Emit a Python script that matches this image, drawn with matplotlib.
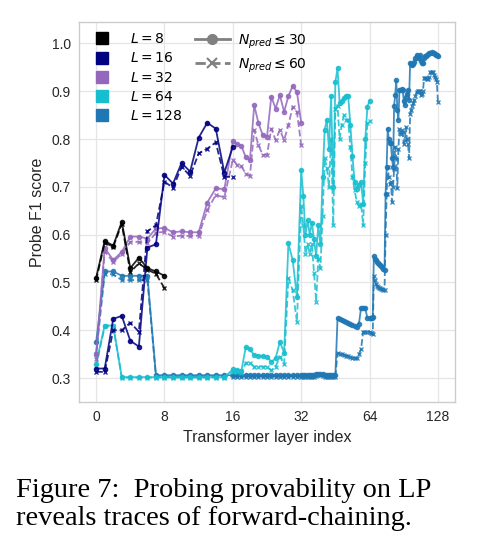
import numpy as np
import matplotlib.pyplot as plt
from matplotlib.lines import Line2D

plt.rcParams["font.family"] = "Liberation Sans"

# ---- datos (F1 del probe por capa) ----
model_sizes = [8, 16, 32, 64, 128]
colors = ["#000000", "#000080", "#9467bd", "#17becf", "#1f77b4"]

L8_n30 = [0.510, 0.587, 0.577, 0.627, 0.530, 0.552, 0.530, 0.523, 0.514]
L8_n60 = [0.505, 0.583, 0.575, 0.622, 0.522, 0.540, 0.527, 0.518, 0.488]

L16_n30 = [0.320, 0.320, 0.424, 0.430, 0.378, 0.366, 0.573, 0.580, 0.725,
           0.707, 0.750, 0.732, 0.803, 0.834, 0.822, 0.730, 0.784]
L16_n60 = [0.313, 0.313, 0.400, 0.400, 0.416, 0.397, 0.607, 0.620, 0.711,
           0.698, 0.742, 0.723, 0.770, 0.780, 0.793, 0.721, 0.721]

L32_n30 = [0.350, 0.572, 0.547, 0.564, 0.596, 0.596, 0.592, 0.613, 0.614,
           0.605, 0.607, 0.605, 0.605, 0.667, 0.697, 0.695, 0.796,
           0.789, 0.786, 0.762, 0.756, 0.871, 0.833, 0.808, 0.805,
           0.889, 0.864, 0.892, 0.857, 0.890, 0.911, 0.899, 0.834]
L32_n60 = [0.340, 0.565, 0.543, 0.560, 0.585, 0.585, 0.582, 0.604, 0.606,
           0.596, 0.598, 0.597, 0.598, 0.651, 0.683, 0.678, 0.757,
           0.746, 0.743, 0.728, 0.723, 0.819, 0.787, 0.767, 0.767,
           0.822, 0.798, 0.819, 0.798, 0.829, 0.868, 0.857, 0.787]

L64_n30 = [0.330, 0.410, 0.410, 0.302, 0.302, 0.302, 0.302, 0.302, 0.302,
           0.302, 0.302, 0.302, 0.302, 0.302, 0.302, 0.302,
           0.318, 0.317, 0.315, 0.364, 0.360, 0.348, 0.347, 0.346,
           0.345, 0.334, 0.341, 0.376, 0.353, 0.582, 0.547, 0.470,
           0.735, 0.680, 0.600, 0.630, 0.600, 0.625, 0.590, 0.555,
           0.620, 0.580, 0.720, 0.820, 0.840, 0.780, 0.890, 0.700,
           0.920, 0.948, 0.875, 0.880, 0.885, 0.890, 0.890, 0.830,
           0.765, 0.710, 0.695, 0.705, 0.710, 0.665, 0.800, 0.868, 0.880]
L64_n60 = [0.325, 0.408, 0.408, 0.301, 0.301, 0.301, 0.301, 0.301, 0.301,
           0.301, 0.301, 0.301, 0.301, 0.301, 0.301, 0.301,
           0.313, 0.312, 0.310, 0.332, 0.332, 0.324, 0.324, 0.324,
           0.324, 0.316, 0.324, 0.345, 0.329, 0.509, 0.484, 0.418,
           0.660, 0.620, 0.560, 0.580, 0.560, 0.580, 0.520, 0.460,
           0.550, 0.530, 0.640, 0.760, 0.740, 0.700, 0.800, 0.620,
           0.864, 0.870, 0.800, 0.830, 0.850, 0.840, 0.840, 0.784,
           0.720, 0.693, 0.669, 0.660, 0.665, 0.620, 0.750, 0.834, 0.837]

L128_n30 = [0.375, 0.523, 0.523, 0.514, 0.514, 0.514, 0.514, 0.306,
            0.306, 0.306, 0.306, 0.306, 0.306, 0.306, 0.306, 0.306,
            0.306, 0.306, 0.306, 0.306, 0.306, 0.306, 0.306, 0.306,
            0.306, 0.306, 0.306, 0.306, 0.306, 0.306, 0.306, 0.306,
            0.306, 0.306, 0.306, 0.306, 0.306, 0.306, 0.306, 0.308,
            0.309, 0.309, 0.308, 0.306, 0.306, 0.306, 0.306, 0.306, 0.306,
            0.425, 0.423, 0.421, 0.419, 0.417, 0.415, 0.413, 0.411,
            0.409, 0.406, 0.413, 0.446, 0.446, 0.446, 0.425, 0.425,
            0.425, 0.426, 0.427, 0.555, 0.550, 0.546, 0.543, 0.540,
            0.538, 0.536, 0.534, 0.532, 0.529, 0.526,
            0.686, 0.742, 0.822, 0.800, 0.791, 0.791, 0.760, 0.742,
            0.870, 0.892, 0.923, 0.860, 0.840, 0.903, 0.903, 0.905,
            0.903, 0.880, 0.871, 0.889, 0.895, 0.903, 0.882, 0.960,
            0.957, 0.955, 0.958, 0.962, 0.970, 0.976, 0.969, 0.972,
            0.976, 0.963, 0.960, 0.959, 0.970, 0.974, 0.974, 0.976,
            0.979, 0.980, 0.981, 0.982, 0.981, 0.980, 0.979, 0.976,
            0.975, 0.973]
L128_n60 = [0.350, 0.518, 0.517, 0.505, 0.505, 0.505, 0.505, 0.303,
            0.303, 0.303, 0.303, 0.303, 0.303, 0.303, 0.303, 0.303,
            0.303, 0.303, 0.303, 0.303, 0.303, 0.303, 0.303, 0.303,
            0.303, 0.303, 0.303, 0.303, 0.303, 0.303, 0.303, 0.303,
            0.303, 0.303, 0.303, 0.303, 0.303, 0.303, 0.303, 0.305,
            0.306, 0.306, 0.305, 0.303, 0.303, 0.303, 0.303, 0.303, 0.303,
            0.352, 0.351, 0.350, 0.349, 0.347, 0.346, 0.345, 0.343,
            0.342, 0.341, 0.350, 0.360, 0.397, 0.397, 0.397, 0.397,
            0.395, 0.394, 0.393, 0.513, 0.505, 0.497, 0.493, 0.490,
            0.489, 0.488, 0.487, 0.486, 0.485, 0.484,
            0.600, 0.686, 0.742, 0.720, 0.707, 0.710, 0.669, 0.700,
            0.738, 0.784, 0.760, 0.697, 0.780, 0.822, 0.810, 0.820,
            0.815, 0.790, 0.798, 0.825, 0.800, 0.790, 0.760, 0.853,
            0.860, 0.870, 0.875, 0.882, 0.890, 0.899, 0.900, 0.900,
            0.900, 0.892, 0.895, 0.900, 0.927, 0.927, 0.927, 0.926,
            0.926, 0.930, 0.941, 0.941, 0.940, 0.934, 0.930, 0.925,
            0.920, 0.878]

series_n30 = [L8_n30, L16_n30, L32_n30, L64_n30, L128_n30]
series_n60 = [L8_n60, L16_n60, L32_n60, L64_n60, L128_n60]

x_ticks = [0, 8, 16, 32, 64, 128]
y_ticks = [0.3, 0.4, 0.5, 0.6, 0.7, 0.8, 0.9, 1.0]

# escala por tramos: cada tick equiespaciado
_brk = [-8, 0, 8, 16, 32, 64, 128, 256]
_pos = [-1, 0, 1, 2, 3, 4, 5, 6]


def fwd(x):
    return np.interp(x, _brk, _pos)


def inv(t):
    return np.interp(t, _pos, _brk)


fig = plt.figure(figsize=(4.82, 5.58), dpi=100)
ax = fig.add_axes([0.164, 0.2796, 0.78, 0.681])
ax.set_xscale("function", functions=(fwd, inv))

# modelos grandes primero, pequeños encima
for L, c, s30, s60 in reversed(list(zip(model_sizes, colors, series_n30, series_n60))):
    layers = np.arange(len(s30))
    ax.plot(layers, s30, color=c, lw=1.3, marker="o", ms=3, alpha=0.85)
    ax.plot(layers, s60, color=c, lw=1.3, ls="--", marker="x", ms=3, mew=1, alpha=0.85)

ax.set_xlim(-2, 160)
ax.set_ylim(0.25, 1.045)
ax.set_xticks(x_ticks)
ax.set_xticklabels([str(t) for t in x_ticks])
ax.set_yticks(y_ticks)
ax.set_yticklabels([f"{t:.1f}" for t in y_ticks])
ax.tick_params(length=0, labelsize=10, colors="#262626", pad=6)
ax.grid(color="#e5e5e5", lw=0.9)
ax.set_axisbelow(True)
for sp in ax.spines.values():
    sp.set_color("#cccccc")
    sp.set_linewidth(1.0)

ax.set_xlabel("Transformer layer index", fontsize=11.5, color="#262626", labelpad=4)
ax.set_ylabel("Probe F1 score", fontsize=11.5, color="#262626", labelpad=5)

h_size = [Line2D([], [], marker="s", ls="none", color=c, ms=8) for c in colors]
leg1 = ax.legend(h_size, [f"$L = {L}$" for L in model_sizes], loc="upper left",
                 bbox_to_anchor=(0.0, 1.006), frameon=False, fontsize=10,
                 handletextpad=1.3, labelspacing=0.38, handlelength=1.5)
ax.add_artist(leg1)

h_style = [Line2D([], [], color="gray", lw=2, marker="o", ms=7),
           Line2D([], [], color="gray", lw=2, ls="--", marker="x", ms=7, mew=1.5)]
ax.legend(h_style, [r"$N_{pred} \leq 30$", r"$N_{pred} \leq 60$"], loc="upper left",
          bbox_to_anchor=(0.275, 1.006), frameon=False, fontsize=10,
          handletextpad=0.6, labelspacing=0.42, handlelength=2.5)

cap_lines = ["Figure 7:  Probing provability on LP", "reveals traces of forward-chaining."]
fig.text(0.033, 1 - 497 / 558, cap_lines[0], family="Liberation Serif",
         fontsize=20.4, va="baseline", ha="left")
fig.text(0.033, 1 - 525 / 558, cap_lines[1], family="Liberation Serif",
         fontsize=20.4, va="baseline", ha="left")

fig.savefig("out.png", dpi=100)
